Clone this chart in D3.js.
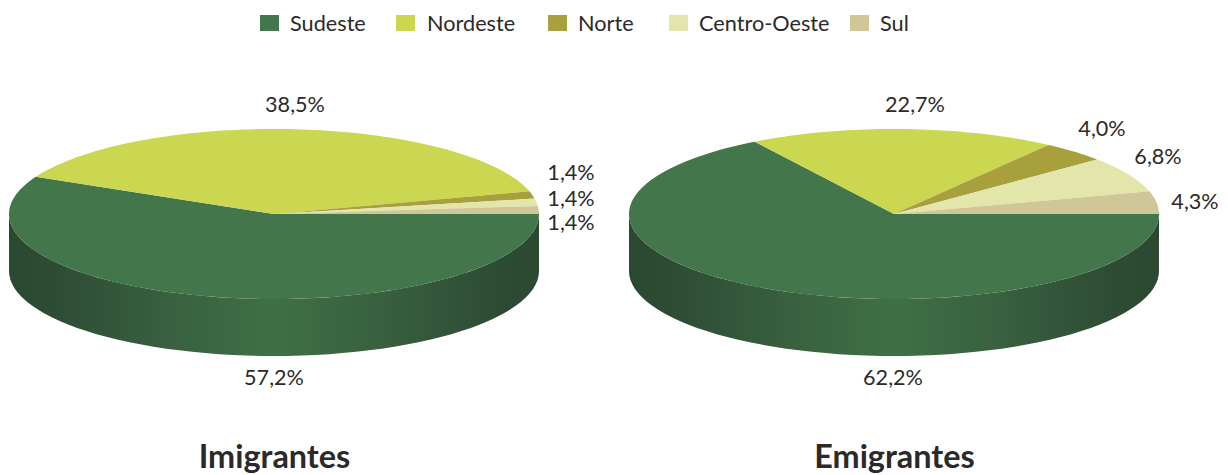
<!DOCTYPE html>
<html><head><meta charset="utf-8">
<script src="https://cdnjs.cloudflare.com/ajax/libs/d3/7.8.5/d3.min.js"></script>
<style>html,body{margin:0;padding:0;background:#fff}svg{display:block}text{font-family:Lato,"Open Sans",sans-serif;fill:#2b2a29}</style>
</head><body><svg id="c" width="1228" height="475"></svg>
<script>
const categories=["Sudeste","Nordeste","Norte","Centro-Oeste","Sul"];
const colors=["#43764a","#cbd751","#a8a03d","#e2e6aa","#cfc798"];
const imigrantesLabels=["57,2%","38,5%","1,4%","1,4%","1,4%"];
const emigrantesLabels=["62,2%","22,7%","4,0%","6,8%","4,3%"];
// Slice shares as drawn in the picture (the printed Emigrantes labels differ slightly from the drawn wedges)
const imigrantesDrawn=[57.2,38.5,1.4,1.4,1.5];
const emigrantesDrawn=[66.2,18.7,4.0,6.8,4.3];
const svg=d3.select("#c");
const defs=svg.append("defs");
const legendX=[260,396,548,669,850], legendTextX=[290,427,578,699,880];
const lg=svg.append("g");
categories.forEach((c,i)=>{
  lg.append("rect").attr("x",legendX[i]).attr("y",15).attr("width",19).attr("height",16).attr("fill",colors[i]);
  lg.append("text").attr("x",legendTextX[i]).attr("y",31).attr("font-size",21.7).text(c);
});
const rx=265,ry=85,depth=57,cy=214;
function pt(cx,a){return [cx+rx*Math.cos(a),cy+ry*Math.sin(a)];}
function drawPie(cx,drawn,labels,title,labelPos,titleX,id){
  const g=svg.append("g");
  const grad=defs.append("linearGradient").attr("id",id).attr("gradientUnits","userSpaceOnUse")
    .attr("x1",cx-rx).attr("x2",cx+rx).attr("y1",0).attr("y2",0);
  [[0,"#2b4831"],[.1,"#2e4d35"],[.3,"#39603f"],[.5,"#3f7044"],[.7,"#39603f"],[.9,"#2e4d35"],[1,"#2b4831"]]
    .forEach(s=>grad.append("stop").attr("offset",s[0]).attr("stop-color",s[1]));
  const n=60,lower=d3.range(n+1).map(i=>pt(cx,Math.PI*i/n));
  const side=[...lower,...lower.slice().reverse().map(p=>[p[0],p[1]+depth])];
  g.append("path").attr("d",d3.line()(side)+"Z").attr("fill",`url(#${id})`);
  const pie=d3.pie().sort(null).startAngle(0).endAngle(2*Math.PI);
  pie(drawn).forEach((d,i)=>{
    const steps=Math.max(2,Math.ceil((d.endAngle-d.startAngle)*40));
    const pts=[[cx,cy]];
    for(let k=0;k<=steps;k++){pts.push(pt(cx,d.startAngle+(d.endAngle-d.startAngle)*k/steps));}
    g.append("path").attr("d",d3.line()(pts)+"Z").attr("fill",colors[i]);
  });
  labels.forEach((t,i)=>g.append("text").attr("x",labelPos[i][0]).attr("y",labelPos[i][1]).attr("text-anchor","middle").attr("font-size",21.6).text(t));
  g.append("text").attr("x",titleX).attr("y",468).attr("text-anchor","middle").attr("font-size",32.4).attr("font-weight",700).text(title);
}
drawPie(274,imigrantesDrawn,imigrantesLabels,"Imigrantes",[[274,385],[295,112],[571,180],[571,206],[571,230]],274.5,"g1");
drawPie(894,emigrantesDrawn,emigrantesLabels,"Emigrantes",[[893,385],[915,112],[1102,136],[1158,164],[1195,209]],894.5,"g2");
</script></body></html>
